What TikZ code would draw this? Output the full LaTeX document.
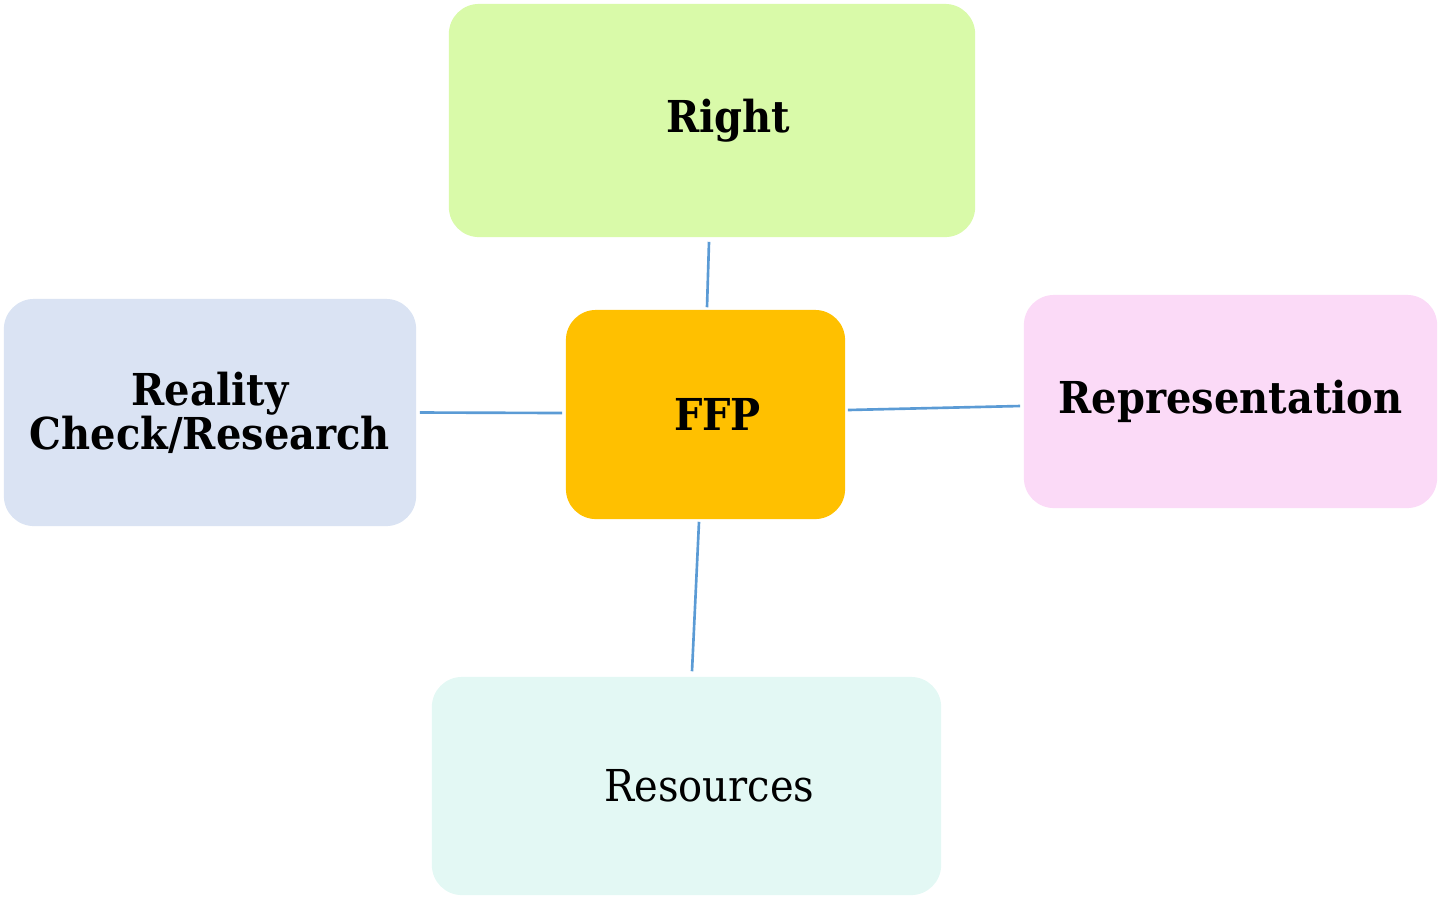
\documentclass[tikz,border=0pt]{standalone}
\usepackage{fontspec}
\setmainfont{DejaVu Serif}[FakeStretch=0.91]
\usetikzlibrary{calc}

\definecolor{rightgreen}{HTML}{D9FAA9}
\definecolor{realityblue}{HTML}{DAE3F3}
\definecolor{ffpgold}{HTML}{FFC000}
\definecolor{reprpink}{HTML}{FBDAF7}
\definecolor{resmint}{HTML}{E3F8F4}
\definecolor{linkblue}{HTML}{5B9BD5}

\begin{document}
\begin{tikzpicture}[x=0.01cm, y=-0.01cm,
  box/.style={rounded corners=0.3cm, inner sep=0pt, align=center,
    font=\bfseries\fontsize{12.5}{12.5}\selectfont},
  link/.style={draw=linkblue, line width=0.75pt}]

\useasboundingbox (0,0) rectangle (1440,899);

% --- the five boxes ---
\node[box, fill=ffpgold, minimum width=2.79cm, minimum height=2.09cm]
  (ffp) at (705.5,414.5) {\hspace*{0.24cm}FFP};
\node[box, fill=rightgreen, minimum width=5.26cm, minimum height=2.33cm]
  (right) at (712,120.5) {\hspace*{0.32cm}Right};
\node[box, fill=realityblue, minimum width=4.12cm, minimum height=2.27cm]
  (reality) at (210,412.5) {Reality\\Check/Research};
\node[box, fill=reprpink, minimum width=4.13cm, minimum height=2.13cm]
  (repr) at (1230.5,401.5) {Representation};
\node[box, fill=resmint, minimum width=5.09cm, minimum height=2.18cm,
  font=\fontsize{12.5}{12.5}\selectfont]
  (res) at (686.5,786) {\hspace*{0.46cm}Resources};

% --- links from the centre ---
\draw[link] ($(right.south)+(-3,4)$) -- ($(ffp.north)+(1.5,-2)$);
\draw[link] ($(reality.east)+(3,0)$) -- ($(ffp.west)+(-3,-1.5)$);
\draw[link] ($(ffp.east)+(2,-4.5)$) -- ($(repr.west)+(-3,4.5)$);
\draw[link] ($(ffp.south)+(-6.5,2)$) -- ($(res.north)+(5.5,-5)$);

\end{tikzpicture}
\end{document}
